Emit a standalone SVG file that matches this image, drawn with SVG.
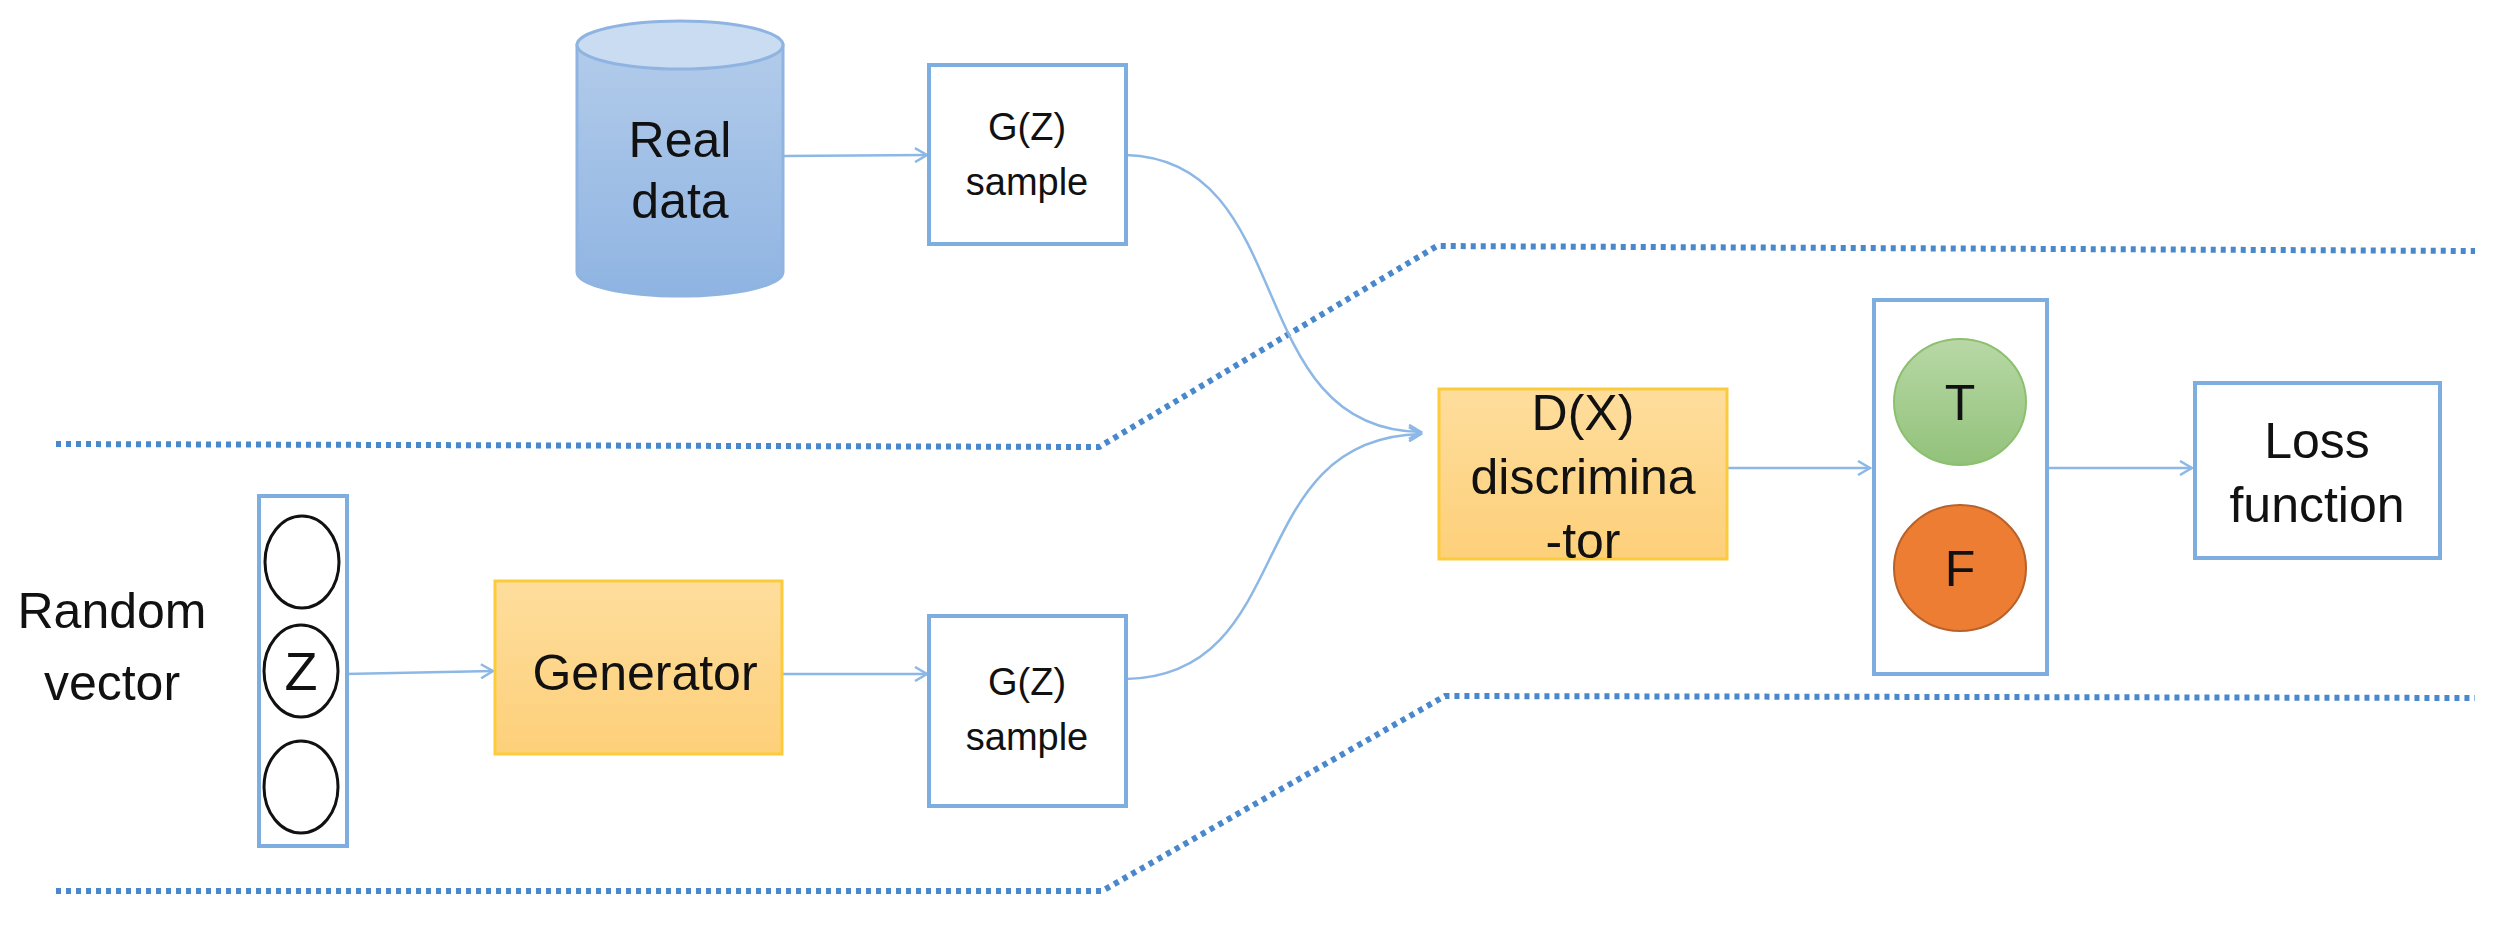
<svg xmlns="http://www.w3.org/2000/svg" width="2504" height="935" viewBox="0 0 2504 935">
<style>
text{font-family:"Liberation Sans",Arial,sans-serif;fill:#111;text-anchor:middle}
.box{fill:#fff;stroke:#7eaedf;stroke-width:4}
.org{fill:url(#og);stroke:#fccb3c;stroke-width:3}
.con{fill:none;stroke:#8db8e6;stroke-width:2.5}
.dot{fill:none;stroke:#4a88cc;stroke-width:6;stroke-dasharray:5 5}
.big{font-size:50px}.sm{font-size:38px}
</style>
<defs>
<linearGradient id="og" x1="0" y1="0" x2="0" y2="1"><stop offset="0" stop-color="#fedd9c"/><stop offset="1" stop-color="#fdd07a"/></linearGradient>
<linearGradient id="cg" x1="0" y1="0" x2="0" y2="1"><stop offset="0" stop-color="#b2cbea"/><stop offset="1" stop-color="#8fb4e2"/></linearGradient>
<linearGradient id="gg" x1="0" y1="0" x2="0" y2="1"><stop offset="0" stop-color="#b8d8a6"/><stop offset="1" stop-color="#92c27a"/></linearGradient>
<marker id="ar" markerWidth="16" markerHeight="16" refX="14" refY="8" orient="auto" markerUnits="userSpaceOnUse"><path d="M2,1 L14,8 L2,15" fill="none" stroke="#8db8e6" stroke-width="2.5"/></marker>
</defs>
<g id="dividers">
<polyline class="dot" points="56,444 1099,447 1437,246 2475,251"/>
<polyline class="dot" points="56,891 1102,891 1445,696 2475,698"/>
</g>
<g id="connectors">
<path class="con" d="M784,156 L927,155" marker-end="url(#ar)"/>
<path class="con" d="M1126,155 C1300,160 1240,430 1421,432" marker-end="url(#ar)"/>
<path class="con" d="M1126,679 C1300,675 1240,438 1421,434" marker-end="url(#ar)"/>
<path class="con" d="M345,674 L493,671" marker-end="url(#ar)"/>
<path class="con" d="M782,674 L927,674" marker-end="url(#ar)"/>
<path class="con" d="M1725,468 L1870,468" marker-end="url(#ar)"/>
<path class="con" d="M2047,468 L2192,468" marker-end="url(#ar)"/>
</g>
<g id="realdata">
<path d="M577,45 L577,272 A103,24 0 0 0 783,272 L783,45 Z" fill="url(#cg)" stroke="#8fb4e2" stroke-width="3"/>
<ellipse cx="680" cy="45" rx="103" ry="24" fill="#c9dcf1" stroke="#8fb4e2" stroke-width="3"/>
<text class="big" x="680" y="157">Real</text>
<text class="big" x="680" y="218">data</text>
</g>
<g id="sample1">
<rect class="box" x="929" y="65" width="197" height="179"/>
<text class="sm" x="1027" y="140">G(Z)</text>
<text class="sm" x="1027" y="195">sample</text>
</g>
<g id="vector">
<text class="big" x="112" y="628">Random</text>
<text class="big" x="112" y="700">vector</text>
<rect class="box" x="259" y="496" width="88" height="350"/>
<ellipse cx="302" cy="562" rx="37" ry="46" fill="none" stroke="#111" stroke-width="3"/>
<ellipse cx="301" cy="671" rx="37" ry="46" fill="none" stroke="#111" stroke-width="3"/>
<text x="301" y="690" style="font-size:54px">Z</text>
<ellipse cx="301" cy="787" rx="37" ry="46" fill="none" stroke="#111" stroke-width="3"/>
</g>
<g id="generator">
<rect class="org" x="495" y="581" width="287" height="173"/>
<text class="big" x="645" y="690">Generator</text>
</g>
<g id="sample2">
<rect class="box" x="929" y="616" width="197" height="190"/>
<text class="sm" x="1027" y="695">G(Z)</text>
<text class="sm" x="1027" y="750">sample</text>
</g>
<g id="discriminator">
<rect class="org" x="1439" y="389" width="288" height="170"/>
<text class="big" x="1583" y="430">D(X)</text>
<text class="big" x="1583" y="494">discrimina</text>
<text class="big" x="1583" y="558">-tor</text>
</g>
<g id="output">
<rect class="box" x="1874" y="300" width="173" height="374"/>
<ellipse cx="1960" cy="402" rx="66" ry="63" fill="url(#gg)" stroke="#8cc06f" stroke-width="2"/>
<text class="big" x="1960" y="420">T</text>
<ellipse cx="1960" cy="568" rx="66" ry="63" fill="#ec7d32" stroke="#b8612a" stroke-width="2"/>
<text class="big" x="1960" y="586">F</text>
</g>
<g id="loss">
<rect class="box" x="2195" y="383" width="245" height="175"/>
<text class="big" x="2317" y="458">Loss</text>
<text class="big" x="2317" y="522">function</text>
</g>
</svg>
